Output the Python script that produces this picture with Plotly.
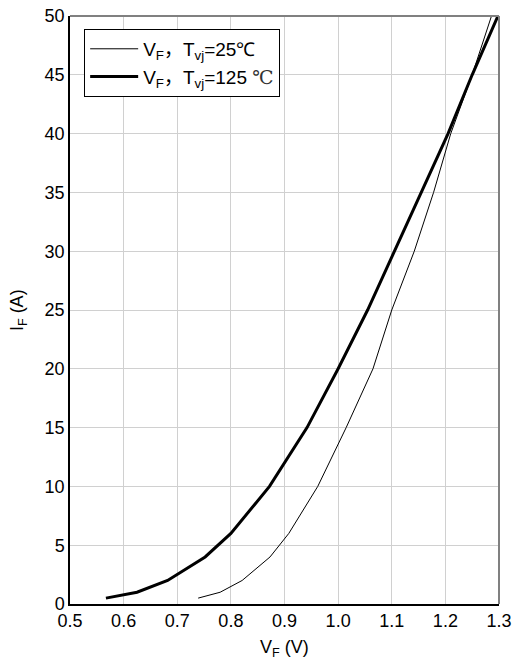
import plotly.graph_objects as go

# 25 °C curve
vf_25 = [0.739, 0.780, 0.821, 0.873, 0.908, 0.962, 1.015, 1.065, 1.100, 1.142, 1.178, 1.210, 1.250, 1.286]
if_25 = [0.5, 1, 2, 4, 6, 10, 15, 20, 25, 30, 35, 40, 45, 50]

# 125 °C curve
vf_125 = [0.567, 0.625, 0.682, 0.752, 0.800, 0.872, 0.942, 1.000, 1.055, 1.105, 1.156, 1.205, 1.250, 1.298]
if_125 = [0.5, 1, 2, 4, 6, 10, 15, 20, 25, 30, 35, 40, 45, 50]

x_ticks = [0.5, 0.6, 0.7, 0.8, 0.9, 1.0, 1.1, 1.2, 1.3]
x_ticklabels = ["0.5", "0.6", "0.7", "0.8", "0.9", "1.0", "1.1", "1.2", "1.3"]
y_ticks = [0, 5, 10, 15, 20, 25, 30, 35, 40, 45, 50]

FONT = "Liberation Sans, Arial, sans-serif"
COMMA = '<span style="font-family:Noto Sans CJK SC">，</span>'
SERIF_C = '<span style="font-family:DejaVu Serif;color:#333">℃</span>'

fig = go.Figure()
fig.add_trace(go.Scatter(
    x=vf_25, y=if_25, mode="lines",
    line=dict(color="black", width=1),
    name="V<sub>F</sub>" + COMMA + "T<sub>vj</sub>=25℃",
))
fig.add_trace(go.Scatter(
    x=vf_125, y=if_125, mode="lines",
    line=dict(color="black", width=3),
    name="V<sub>F</sub>" + COMMA + "T<sub>vj</sub>=125 " + SERIF_C,
))

fig.update_layout(
    width=514, height=654,
    margin=dict(l=62, r=23, t=8, b=58, autoexpand=False),
    paper_bgcolor="white", plot_bgcolor="white",
    font=dict(family=FONT, size=18, color="black"),
    showlegend=True,
    legend=dict(
        x=0.033, y=0.978, xanchor="left", yanchor="top",
        bgcolor="white", bordercolor="black", borderwidth=1,
        font=dict(family=FONT, size=19, color="black"),
        tracegroupgap=0, itemwidth=48,
    ),
    xaxis=dict(
        range=[0.5, 1.3], tickvals=x_ticks, ticktext=x_ticklabels,
        showgrid=True, gridcolor="#d0d0d0", gridwidth=1,
        showline=True, linecolor="black", linewidth=1.5,
        ticks="", zeroline=False, automargin=False,
        ticklabeloverflow="allow",
        tickfont=dict(family=FONT, size=18),
    ),
    yaxis=dict(
        range=[0, 50], tickvals=y_ticks,
        showgrid=True, gridcolor="#d0d0d0", gridwidth=1,
        showline=True, linecolor="black", linewidth=1.5,
        ticks="", zeroline=False, automargin=False,
        ticklabeloverflow="allow",
        tickfont=dict(family=FONT, size=18),
    ),
    annotations=[
        dict(text="V<sub>F</sub> (V)", xref="paper", yref="paper",
             x=0.501, y=-0.075, xanchor="center", yanchor="middle",
             showarrow=False, font=dict(family=FONT, size=18)),
        dict(text="I<sub>F</sub> (A)", xref="paper", yref="paper",
             x=-0.121, y=0.5, xanchor="center", yanchor="middle",
             textangle=-90, showarrow=False, font=dict(family=FONT, size=18)),
    ],
    shapes=[
        dict(type="line", xref="paper", yref="paper", x0=0, x1=1, y0=1, y1=1,
             line=dict(color="#808080", width=2)),
        dict(type="line", xref="paper", yref="paper", x0=1, x1=1, y0=0, y1=1,
             line=dict(color="#808080", width=2)),
    ],
)

fig.write_html("out.html")
